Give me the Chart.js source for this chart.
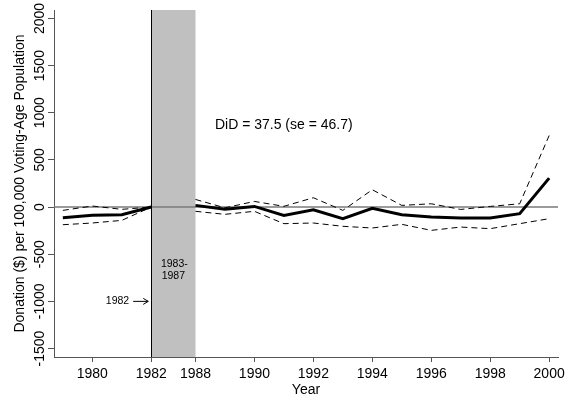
<!DOCTYPE html>
<html>
<head>
<meta charset="utf-8">
<script src="https://cdn.jsdelivr.net/npm/chart.js@4.4.0/dist/chart.umd.min.js"></script>
<style>
  html, body { margin: 0; padding: 0; background: #fff; }
  #chart-container { width: 573px; height: 399px; }
</style>
</head>
<body>
<div id="chart-container"><canvas id="chart" width="573" height="399"></canvas></div>
<script>
const years = [1979, 1980, 1981, 1982,
  1988, 1989, 1990, 1991, 1992, 1993, 1994, 1995, 1996, 1997, 1998, 1999, 2000];
const estimate = [-112, -88, -81, 0,
  18, -24, 7, -88, -28, -123, -14, -81, -105, -116, -116, -70, 307];
const upperCI = [-35, 11, -24, 0,
  81, -8, 60, 8, 99, -35, 184, 18, 35, -25, 7, 35, 759];
const lowerCI = [-187, -169, -141, 0,
  -45, -77, -45, -176, -169, -204, -222, -183, -247, -212, -229, -176, -123];
const yearTicks = [1980, 1982, 1988, 1990, 1992, 1994, 1996, 1998, 2000];
const valueTicks = [-1500, -1000, -500, 0, 500, 1000, 1500, 2000];

const gapStart = 1982;
const gapEnd = 1988;
const FONT = '"Liberation Sans", Arial, Helvetica, sans-serif';

// 1983-1987 is squeezed into a short band on the axis
function yearPos(yr) {
  return yr <= gapStart ? yr - 1979 : yr - gapEnd + 4.5;
}

function toPoints(values) {
  const pts = [];
  years.forEach((yr, i) => {
    if (yr === gapEnd) pts.push({ x: (yearPos(gapStart) + yearPos(gapEnd)) / 2, y: null });
    pts.push({ x: yearPos(yr), y: values[i] });
  });
  return pts;
}

const didLabel = { text: 'DiD = 37.5 (se = 46.7)', x: yearPos(gapEnd) + 0.66, y: 870 };
const bandLabel = { lines: ['1983-', '1987'], y: -672 };
const arrowLabel = { text: '1982', x: 2.25, y: -1000 };

const overlay = {
  id: 'overlay',
  beforeDatasetsDraw(chart) {
    const { ctx, chartArea: a, scales: { x, y } } = chart;
    const x0 = x.getPixelForValue(yearPos(gapStart));
    const x1 = x.getPixelForValue(yearPos(gapEnd));
    ctx.save();
    ctx.fillStyle = '#c0c0c0';
    ctx.fillRect(x0, a.top, x1 - x0, a.bottom - a.top);

    // zero reference line
    ctx.strokeStyle = '#7a7a7a';
    ctx.lineWidth = 1.5;
    ctx.beginPath();
    ctx.moveTo(a.left, y.getPixelForValue(0));
    ctx.lineTo(a.right, y.getPixelForValue(0));
    ctx.stroke();

    ctx.strokeStyle = '#000';
    ctx.lineWidth = 1;
    ctx.beginPath();
    ctx.moveTo(Math.round(x0) + 0.5, a.top);
    ctx.lineTo(Math.round(x0) + 0.5, a.bottom);
    ctx.stroke();
    ctx.restore();
  },
  afterDraw(chart) {
    const { ctx, scales: { x, y } } = chart;
    ctx.save();
    ctx.fillStyle = '#000';

    // y tick labels, turned to read upwards
    ctx.font = '14px ' + FONT;
    ctx.textAlign = 'center';
    ctx.textBaseline = 'alphabetic';
    valueTicks.forEach(v => {
      ctx.save();
      ctx.translate(43.5, y.getPixelForValue(v));
      ctx.rotate(-Math.PI / 2);
      ctx.fillText(String(v), 0, 0);
      ctx.restore();
    });

    ctx.textAlign = 'left';
    ctx.textBaseline = 'middle';
    ctx.fillText(didLabel.text, x.getPixelForValue(didLabel.x), y.getPixelForValue(didLabel.y));

    ctx.font = '10.5px ' + FONT;
    ctx.textAlign = 'center';
    const bx = (x.getPixelForValue(yearPos(gapStart)) + x.getPixelForValue(yearPos(gapEnd))) / 2;
    const by = y.getPixelForValue(bandLabel.y);
    ctx.fillText(bandLabel.lines[0], bx + 1, by - 6);
    ctx.fillText(bandLabel.lines[1], bx, by + 6);

    const ax = x.getPixelForValue(arrowLabel.x);
    const ay = y.getPixelForValue(arrowLabel.y);
    ctx.textAlign = 'right';
    ctx.fillText(arrowLabel.text, ax, ay);
    const tip = x.getPixelForValue(yearPos(gapStart)) - 3;
    ctx.strokeStyle = '#000';
    ctx.lineWidth = 1;
    ctx.beginPath();
    ctx.moveTo(ax + 4, ay);
    ctx.lineTo(tip, ay);
    ctx.moveTo(tip - 5, ay - 3);
    ctx.lineTo(tip, ay);
    ctx.lineTo(tip - 5, ay + 3);
    ctx.stroke();
    ctx.restore();
  }
};

const dashed = { borderColor: '#000', borderWidth: 1, borderDash: [6, 4], pointRadius: 0, fill: false };

new Chart(document.getElementById('chart'), {
  type: 'line',
  data: {
    datasets: [
      { label: 'Estimate', data: toPoints(estimate), borderColor: '#000', borderWidth: 3, pointRadius: 0, fill: false },
      Object.assign({ label: 'Upper 95% CI', data: toPoints(upperCI) }, dashed),
      Object.assign({ label: 'Lower 95% CI', data: toPoints(lowerCI) }, dashed)
    ]
  },
  options: {
    responsive: false,
    animation: false,
    spanGaps: false,
    layout: { padding: { top: 10, right: 15, bottom: 0, left: 0 } },
    plugins: { legend: { display: false }, tooltip: { enabled: false } },
    scales: {
      x: {
        type: 'linear',
        min: -0.3,
        max: 16.8,
        afterBuildTicks: s => { s.ticks = yearTicks.map(yr => ({ value: yearPos(yr) })); },
        afterFit: s => { s.height = 42; },
        grid: { drawOnChartArea: false, drawTicks: true, tickLength: 5, color: '#555' },
        border: { display: true, color: '#555', width: 1 },
        ticks: {
          autoSkip: false,
          maxRotation: 0,
          padding: 4,
          color: '#000',
          font: { family: FONT, size: 14 },
          callback: v => {
            const yr = yearTicks.find(t => yearPos(t) === v);
            return yr === undefined ? '' : String(yr);
          }
        },
        title: {
          display: true,
          text: 'Year',
          color: '#000',
          font: { family: FONT, size: 14 },
          padding: { top: 0, bottom: 0 }
        }
      },
      y: {
        min: -1590,
        max: 2090,
        afterBuildTicks: s => { s.ticks = valueTicks.map(v => ({ value: v })); },
        afterFit: s => { s.width = 54; },
        grid: { drawOnChartArea: false, drawTicks: true, tickLength: 6, color: '#555' },
        border: { display: true, color: '#555', width: 1 },
        ticks: { display: false },
        title: {
          display: true,
          text: 'Donation ($) per 100,000 Voting-Age Population',
          color: '#000',
          font: { family: FONT, size: 14 },
          padding: { top: 12, bottom: 0 }
        }
      }
    }
  },
  plugins: [overlay]
});
</script>
</body>
</html>
